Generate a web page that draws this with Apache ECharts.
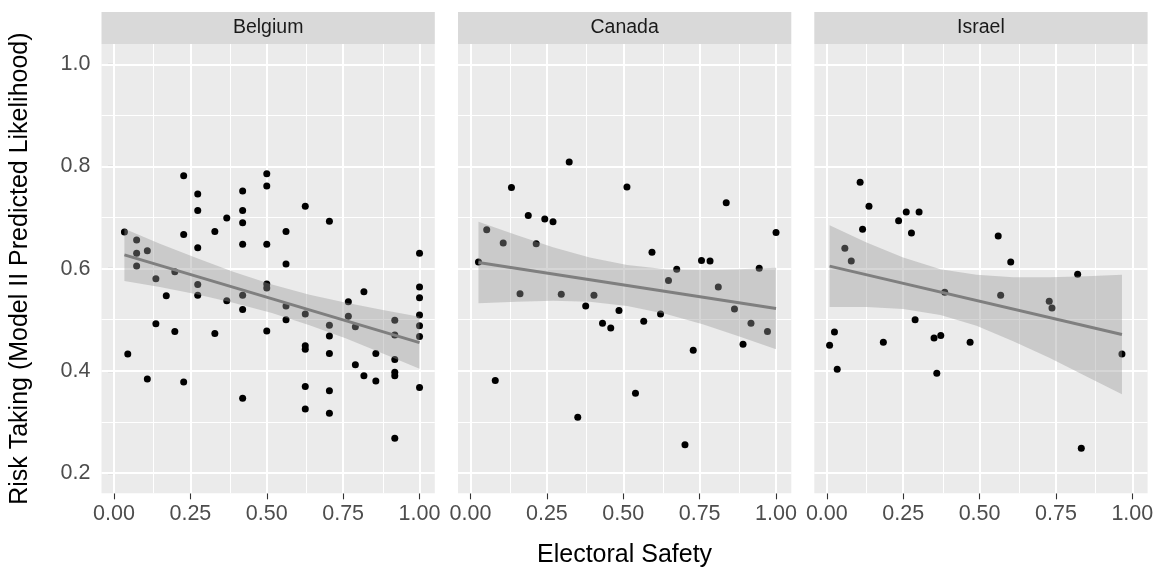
<!DOCTYPE html>
<html><head><meta charset="utf-8">
<script src="https://cdn.jsdelivr.net/npm/echarts@6/dist/echarts.min.js"></script>
<style>html,body{margin:0;padding:0;background:#fff}#c{width:1164px;height:571px}</style>
</head><body><div id="c"></div>
<script>
// ---------- DATA ----------
const countries = ['Belgium', 'Canada', 'Israel'];
const xTitle = 'Electoral Safety';
const yTitle = 'Risk Taking (Model II Predicted Likelihood)';
const xTicks = [0, 0.25, 0.5, 0.75, 1.0];
const xMinor = [0.125, 0.375, 0.625, 0.875];
const yTicks = [0.2, 0.4, 0.6, 0.8, 1.0];
const yMinor = [0.3, 0.5, 0.7, 0.9];

const belgiumX = [0.034,0.045,0.074,0.074,0.074,0.109,0.109,0.137,0.137,0.171,0.199,0.199,0.228,0.228,0.228,0.274,0.274,0.274,0.274,0.274,0.330,0.330,0.369,0.369,0.421,0.421,0.421,0.421,0.421,0.421,0.421,0.5,0.5,0.5,0.5,0.5,0.5,0.563,0.563,0.563,0.563,0.626,0.626,0.626,0.626,0.626,0.626,0.705,0.705,0.705,0.705,0.705,0.705,0.767,0.767,0.790,0.790,0.818,0.818,0.857,0.857,0.919,0.919,0.919,0.919,0.919,0.919,1,1,1,1,1,1,1];
const belgiumY = [0.672,0.433,0.656,0.630,0.605,0.635,0.384,0.580,0.492,0.547,0.594,0.477,0.782,0.667,0.378,0.746,0.714,0.641,0.569,0.548,0.673,0.473,0.699,0.537,0.752,0.714,0.690,0.648,0.548,0.520,0.346,0.786,0.762,0.648,0.570,0.562,0.478,0.673,0.609,0.527,0.500,0.722,0.511,0.449,0.442,0.369,0.325,0.693,0.489,0.468,0.434,0.361,0.317,0.535,0.507,0.486,0.412,0.555,0.390,0.434,0.380,0.499,0.470,0.422,0.397,0.390,0.268,0.630,0.564,0.543,0.509,0.488,0.467,0.367];
const belgiumFitX = [0.034, 1.0];
const belgiumFitY = [0.627, 0.455];
const belgiumBandX = [0.034,0.15,0.27,0.39,0.517,0.64,0.76,0.88,1.0];
const belgiumBandHi = [0.678,0.649,0.621,0.594,0.569,0.549,0.533,0.519,0.506];
const belgiumBandLo = [0.576,0.564,0.550,0.533,0.513,0.489,0.463,0.434,0.404];

const canadaX = [0.026,0.053,0.081,0.107,0.134,0.162,0.189,0.215,0.243,0.270,0.297,0.323,0.351,0.377,0.404,0.432,0.459,0.486,0.512,0.540,0.567,0.594,0.622,0.648,0.675,0.702,0.729,0.756,0.784,0.811,0.837,0.864,0.892,0.918,0.945,0.972,1.0];
const canadaY = [0.613,0.676,0.381,0.650,0.759,0.551,0.704,0.649,0.697,0.692,0.550,0.809,0.309,0.527,0.548,0.493,0.484,0.518,0.760,0.356,0.497,0.632,0.511,0.577,0.599,0.255,0.440,0.616,0.615,0.564,0.729,0.521,0.452,0.493,0.601,0.477,0.671];
const canadaFitX = [0.026, 1.0];
const canadaFitY = [0.612, 0.522];
const canadaBandX = [0.026,0.15,0.27,0.39,0.513,0.64,0.76,0.88,1.0];
const canadaBandHi = [0.692,0.666,0.642,0.622,0.607,0.599,0.598,0.599,0.602];
const canadaBandLo = [0.532,0.535,0.537,0.535,0.527,0.511,0.491,0.467,0.442];

const israelX = [0.009,0.025,0.034,0.059,0.080,0.109,0.117,0.138,0.185,0.235,0.260,0.277,0.289,0.302,0.351,0.360,0.373,0.386,0.469,0.561,0.569,0.602,0.728,0.737,0.821,0.833,0.966];
const israelY = [0.450,0.476,0.403,0.640,0.615,0.769,0.677,0.722,0.456,0.694,0.711,0.670,0.500,0.711,0.464,0.395,0.469,0.554,0.456,0.664,0.548,0.613,0.536,0.523,0.589,0.248,0.433];
const israelFitX = [0.009, 0.966];
const israelFitY = [0.605, 0.471];
const israelBandX = [0.009,0.13,0.25,0.372,0.49,0.61,0.73,0.85,0.966];
const israelBandHi = [0.685,0.651,0.622,0.599,0.588,0.583,0.583,0.585,0.588];
const israelBandLo = [0.525,0.525,0.521,0.509,0.488,0.458,0.425,0.389,0.354];

// ---------- LAYOUT ----------
const panels = [
  {x: belgiumX, y: belgiumY, fx: belgiumFitX, fy: belgiumFitY, bx: belgiumBandX, hi: belgiumBandHi, lo: belgiumBandLo},
  {x: canadaX, y: canadaY, fx: canadaFitX, fy: canadaFitY, bx: canadaBandX, hi: canadaBandHi, lo: canadaBandLo},
  {x: israelX, y: israelY, fx: israelFitX, fy: israelFitY, bx: israelBandX, hi: israelBandHi, lo: israelBandLo}
];
const FONT = '"Liberation Sans", Arial, Helvetica, sans-serif';
const lefts = [101.5, 458, 814.3];
const PW = 333.3, PT = 44, PH = 449.3;
const STRIP_TOP = 12;
const TICK_FS = 21.5, TITLE_FS = 25, STRIP_FS = 19.5;

const grids = [], xAxes = [], yAxes = [], series = [], graphics = [];
panels.forEach((p, i) => {
  grids.push({left: lefts[i], top: PT, width: PW, height: PH, show: true,
    backgroundColor: '#EBEBEB', borderWidth: 0, containLabel: false});
  xAxes.push({type: 'value', gridIndex: i, min: -0.041, max: 1.05,
    axisLine: {show: false}, splitLine: {show: false},
    axisTick: {show: true, length: 6, customValues: xTicks, lineStyle: {color: '#333333', width: 1.1}},
    axisLabel: {show: true, customValues: xTicks, margin: 10, color: '#4D4D4D', fontSize: TICK_FS, fontFamily: FONT,
      formatter: v => v.toFixed(2)}});
  yAxes.push({type: 'value', gridIndex: i, min: 0.16, max: 1.04,
    axisLine: {show: false}, splitLine: {show: false},
    axisTick: {show: i === 0, length: 6, customValues: yTicks, lineStyle: {color: '#333333', width: 1.1}},
    axisLabel: {show: i === 0, customValues: yTicks, margin: 11, color: '#4D4D4D', fontSize: TICK_FS, fontFamily: FONT,
      formatter: v => v.toFixed(1)}});
  const gl = [];
  xMinor.forEach(v => gl.push({xAxis: v, lineStyle: {color: '#fff', width: 1, type: 'solid'}}));
  yMinor.forEach(v => gl.push({yAxis: v, lineStyle: {color: '#fff', width: 1, type: 'solid'}}));
  xTicks.forEach(v => gl.push({xAxis: v, lineStyle: {color: '#fff', width: 2, type: 'solid'}}));
  yTicks.forEach(v => gl.push({yAxis: v, lineStyle: {color: '#fff', width: 2, type: 'solid'}}));
  series.push({type: 'line', xAxisIndex: i, yAxisIndex: i, data: [], z: 1, silent: true,
    markLine: {z: 1, silent: true, symbol: ['none', 'none'], label: {show: false}, animation: false, data: gl}});
  series.push({type: 'scatter', xAxisIndex: i, yAxisIndex: i, z: 2, symbolSize: 7,
    itemStyle: {color: '#000000', opacity: 1},
    data: p.x.map((v, k) => [v, p.y[k]])});
  series.push({type: 'custom', xAxisIndex: i, yAxisIndex: i, z: 3, silent: true,
    data: [[0.5, 0.5]],
    renderItem: (params, api) => {
      const pts = [];
      p.bx.forEach((v, k) => pts.push(api.coord([v, p.hi[k]])));
      for (let k = p.bx.length - 1; k >= 0; k--) pts.push(api.coord([p.bx[k], p.lo[k]]));
      return {type: 'polygon', shape: {points: pts}, style: {fill: 'rgba(153,153,153,0.4)'}};
    }});
  series.push({type: 'line', xAxisIndex: i, yAxisIndex: i, z: 4, showSymbol: false, silent: true,
    lineStyle: {color: '#7F7F7F', width: 3},
    data: p.fx.map((v, k) => [v, p.fy[k]])});
  graphics.push({type: 'rect', shape: {x: lefts[i], y: STRIP_TOP, width: PW, height: PT - STRIP_TOP},
    style: {fill: '#D9D9D9'}, silent: true});
  graphics.push({type: 'text', x: lefts[i] + PW / 2, y: STRIP_TOP + (PT - STRIP_TOP) / 2,
    style: {text: countries[i], fill: '#1A1A1A', font: STRIP_FS + 'px ' + FONT, textAlign: 'center', textVerticalAlign: 'middle'}});
});
graphics.push({type: 'text', x: (lefts[0] + lefts[2] + PW) / 2, y: 555,
  style: {text: xTitle, fill: '#000', font: TITLE_FS + 'px ' + FONT, textAlign: 'center', textVerticalAlign: 'middle'}});
graphics.push({type: 'text', x: 20, y: PT + PH / 2, rotation: Math.PI / 2,
  style: {text: yTitle, fill: '#000', font: TITLE_FS + 'px ' + FONT, textAlign: 'center', textVerticalAlign: 'middle'}});

const chart = echarts.init(document.getElementById('c'), null, {renderer: 'canvas'});
chart.setOption({
  animation: false,
  backgroundColor: '#FFFFFF',
  grid: grids, xAxis: xAxes, yAxis: yAxes, series: series, graphic: graphics
});
</script>
</body></html>
